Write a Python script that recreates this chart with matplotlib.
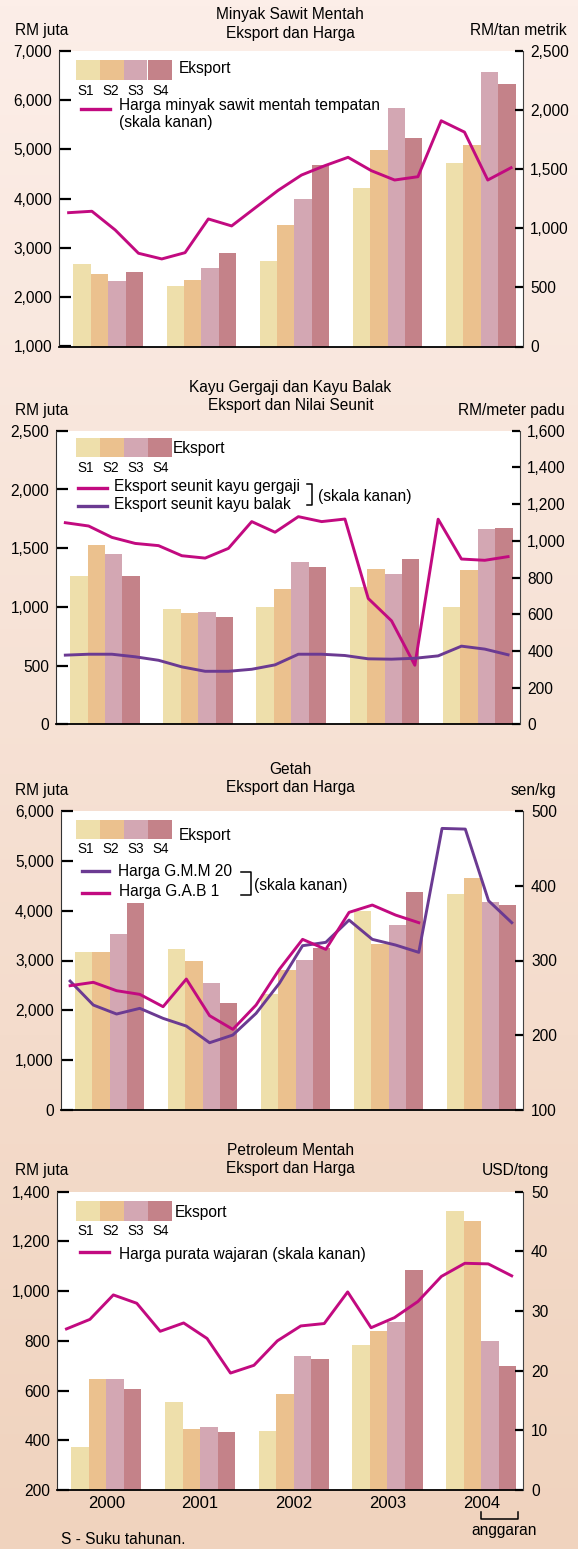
import numpy as np
import matplotlib.pyplot as plt
from matplotlib.patches import Rectangle
from matplotlib.lines import Line2D
from matplotlib.ticker import FuncFormatter

plt.rcParams['font.family'] = ['Liberation Sans', 'DejaVu Sans']

years = ['2000', '2001', '2002', '2003', '2004']
quarters = ['S1', 'S2', 'S3', 'S4']

# Minyak sawit mentah: eksport (RM juta) per suku, harga (RM/tan metrik)
cpo_export = [[2670, 2470, 2330, 2510],
              [2230, 2350, 2590, 2890],
              [2730, 3460, 3990, 4690],
              [4215, 4985, 5830, 5225],
              [4720, 5090, 6575, 6330]]
cpo_price = [1131, 1143, 985, 788, 740, 793, 1078, 1019, 1170, 1320,
             1449, 1528, 1599, 1486, 1407, 1435, 1908, 1812, 1407, 1511]

# Kayu gergaji dan kayu balak (RM juta), nilai seunit (RM/meter padu)
timber_export = [[1266, 1530, 1453, 1263],
                 [981, 944, 956, 910],
                 [995, 1152, 1379, 1337],
                 [1166, 1322, 1277, 1405],
                 [998, 1317, 1664, 1669]]
sawn_unit = [1099, 1081, 1019, 986, 974, 919, 906, 959, 1105, 1047,
             1132, 1105, 1119, 686, 564, 322, 1118, 901, 894, 914]
log_unit = [377, 382, 382, 368, 349, 313, 289, 289, 300, 324,
            382, 382, 375, 357, 355, 360, 373, 426, 410, 379]

# Getah (RM juta), harga (sen/kg)
rubber_export = [[3177, 3164, 3532, 4147],
                 [3231, 2997, 2549, 2147],
                 [2328, 2816, 3017, 3258],
                 [3993, 3331, 3719, 4375],
                 [4334, 4656, 4174, 4107]]
smr20 = [272.5, 240.4, 228.4, 236, 222.6, 212.3, 190, 200.3, 229.3, 269.4,
         319.8, 324.3, 354.1, 328.3, 320.7, 310.9, 476.7, 475.8, 380, 350.6]
rss1 = [266.3, 270.8, 259.6, 254.7, 238.2, 275.2, 226.2, 207.9, 240.4, 288.1,
        328.3, 314.9, 364.4, 374.2, 360.8, 350.6]

# Petroleum mentah (RM juta), harga purata wajaran (USD/tong)
oil_export = [[372, 646, 645, 606],
              [554, 445, 453, 433],
              [437, 586, 739, 727],
              [783, 840, 876, 1084],
              [1322, 1282, 799, 699]]
oil_price = [27.0, 28.6, 32.7, 31.3, 26.6, 28.0, 25.4, 19.6, 20.9, 25.0,
             27.5, 27.9, 33.2, 27.2, 28.9, 31.6, 35.8, 38.0, 37.9, 35.9]

bar_colors = ['#eedfab', '#ebc18e', '#d3a7b3', '#c48289']
magenta = '#c20a80'
purple = '#6b3a92'

W, H = 578, 1549


def fx(px):
    return px / W


def fy(py):
    return 1 - py / H


fig = plt.figure(figsize=(W / 100, H / 100), dpi=100)

# background gradient
bg = fig.add_axes([0, 0, 1, 1], zorder=-10)
c_top = np.array([252, 238, 232]) / 255
c_bot = np.array([240, 211, 190]) / 255
t = np.linspace(0, 1, 256)[:, None]
grad = c_top * (1 - t) + c_bot * t
bg.imshow(grad[:, None, :], aspect='auto', extent=[0, 1, 0, 1])
bg.axis('off')

xg = np.arange(len(years))
bw = 0.187
xq = np.arange(20) / 4 - 0.425
fmt = FuncFormatter(lambda v, p: f'{v:,.0f}')
FS = 11.2


def panel(box, exports, lines, ylim_l, step_l, ylim_r, step_r):
    left, top, right, bottom = box
    ax = fig.add_axes([fx(left), fy(bottom), (right - left) / W, (bottom - top) / H])
    ax.set_facecolor('white')
    for k in range(4):
        ax.bar(xg + (k - 1.5) * bw, [row[k] for row in exports], bw,
               color=bar_colors[k], lw=0)
    ax.set_xlim(-0.525, 4.45)
    ax.set_ylim(ylim_l)
    ax.set_yticks(np.arange(ylim_l[0], ylim_l[1] + 1, step_l))
    ax.yaxis.set_major_formatter(fmt)
    ax.tick_params(axis='y', direction='in', length=8.5, width=1.6, pad=5, labelsize=FS)
    ax.tick_params(axis='x', length=0, labelbottom=False)
    ax.spines['top'].set_visible(False)
    ax.spines['right'].set_visible(False)
    ax.spines['left'].set_color('#333333')
    ax.spines['bottom'].set_color('black')
    ax.spines['bottom'].set_linewidth(1.3)

    ax2 = ax.twinx()
    for vals, c in lines:
        ax2.plot(xq[:len(vals)], vals, color=c, lw=2.1)
    ax2.set_ylim(ylim_r)
    ax2.set_yticks(np.arange(ylim_r[0], ylim_r[1] + 1, step_r))
    ax2.yaxis.set_major_formatter(fmt)
    ax2.tick_params(axis='y', direction='in', length=6, width=1.6, pad=5.5, labelsize=FS)
    for s in ['top', 'left', 'bottom']:
        ax2.spines[s].set_visible(False)
    ax2.spines['right'].set_color('#444444')
    return ax


def headings(t1, t2, y1, y2, y_unit, right_unit, x_right):
    fig.text(fx(290.4), fy(y1), t1, ha='center', va='center', fontsize=FS)
    fig.text(fx(290.4), fy(y2), t2, ha='center', va='center', fontsize=FS)
    fig.text(fx(14.7), fy(y_unit), 'RM juta', ha='left', va='center', fontsize=FS)
    fig.text(fx(x_right), fy(y_unit), right_unit, ha='right', va='center', fontsize=FS)


def eksport_key(x0, ytop, ybot, ylab, xtext, ytext):
    for k in range(4):
        fig.add_artist(Rectangle((fx(x0 + 24 * k), fy(ybot)), 24 / W, (ybot - ytop) / H,
                                 transform=fig.transFigure, color=bar_colors[k], lw=0))
        fig.text(fx(x0 + 10 + 25 * k), fy(ylab), quarters[k], ha='center', va='center',
                 fontsize=9.8)
    fig.text(fx(xtext), fy(ytext), 'Eksport', ha='left', va='center', fontsize=FS)


def line_key(x0, x1, y, color, text, xt, yt):
    fig.add_artist(Line2D([fx(x0), fx(x1)], [fy(y), fy(y)], transform=fig.transFigure,
                          color=color, lw=2.4))
    fig.text(fx(xt), fy(yt), text, ha='left', va='center', fontsize=FS)


def bracket(x0, x1, y0, y1, xt, yt):
    fig.add_artist(Line2D([fx(x0), fx(x1), fx(x1), fx(x0)],
                          [fy(y0), fy(y0), fy(y1), fy(y1)],
                          transform=fig.transFigure, color='black', lw=1.1))
    fig.text(fx(xt), fy(yt), '(skala kanan)', ha='left', va='center', fontsize=FS)


# Panel 1
panel((59.3, 50.7, 522.7, 346.5), cpo_export, [(cpo_price, magenta)],
      (1000, 7000), 1000, (0, 2500), 500)
headings('Minyak Sawit Mentah', 'Eksport dan Harga', 15, 33.3, 30.7, 'RM/tan metrik', 566.5)
eksport_key(75.5, 60, 80, 90.7, 179, 69)
line_key(80.7, 109.6, 109.3, magenta, 'Harga minyak sawit mentah tempatan', 119, 105.3)
fig.text(fx(119), fy(122.7), '(skala kanan)', ha='left', va='center', fontsize=FS)

# Panel 2
panel((56, 430.8, 519.7, 724.3), timber_export, [(sawn_unit, magenta), (log_unit, purple)],
      (0, 2500), 500, (0, 1600), 200)
headings('Kayu Gergaji dan Kayu Balak', 'Eksport dan Nilai Seunit', 387.3, 405.3, 410.7,
         'RM/meter padu', 565)
eksport_key(75.6, 438.3, 457.3, 467.7, 172.5, 449)
line_key(78, 107, 488.3, magenta, 'Eksport seunit kayu gergaji', 114.3, 486.7)
line_key(78, 107, 506, purple, 'Eksport seunit kayu balak', 114.3, 505)
bracket(307.3, 311.7, 484.3, 505, 317.5, 496.7)

# Panel 3
panel((60.8, 811, 523.4, 1110), rubber_export, [(smr20, purple), (rss1, magenta)],
      (0, 6000), 1000, (100, 500), 100)
headings('Getah', 'Eksport dan Harga', 769.3, 787.3, 790, 'sen/kg', 556.6)
eksport_key(75.6, 820, 839.3, 849.3, 178.8, 836)
line_key(81.8, 109, 870.7, purple, 'Harga G.M.M 20', 118, 871.7)
line_key(81.8, 109, 892.7, magenta, 'Harga G.A.B 1', 119, 891.7)
bracket(241.4, 250.6, 871.7, 895, 253.6, 885)

# Panel 4
ax4 = panel((57.1, 1191.7, 523.4, 1490), oil_export, [(oil_price, magenta)],
            (200, 1400), 200, (0, 50), 10)
headings('Petroleum Mentah', 'Eksport dan Harga', 1150.7, 1169, 1170.7, 'USD/tong', 549)
eksport_key(75.6, 1201, 1220.7, 1230.7, 175, 1212.7)
line_key(80, 109, 1252.3, magenta, 'Harga purata wajaran (skala kanan)', 118.7, 1254)
ax4.set_xticks(xg)
ax4.set_xticklabels(years)
ax4.tick_params(axis='x', length=0, labelbottom=True, pad=4, labelsize=12)

# anggaran bracket under 2004
fig.add_artist(Line2D([fx(481), fx(481), fx(517.7), fx(517.7)],
                      [fy(1511.7), fy(1519.3), fy(1519.3), fy(1511.7)],
                      transform=fig.transFigure, color='black', lw=1.1))
fig.text(fx(503.8), fy(1530.7), 'anggaran', ha='center', va='center', fontsize=FS)
fig.text(fx(60.7), fy(1540), 'S - Suku tahunan.', ha='left', va='center', fontsize=FS)

fig.savefig('out.png', dpi=100)
